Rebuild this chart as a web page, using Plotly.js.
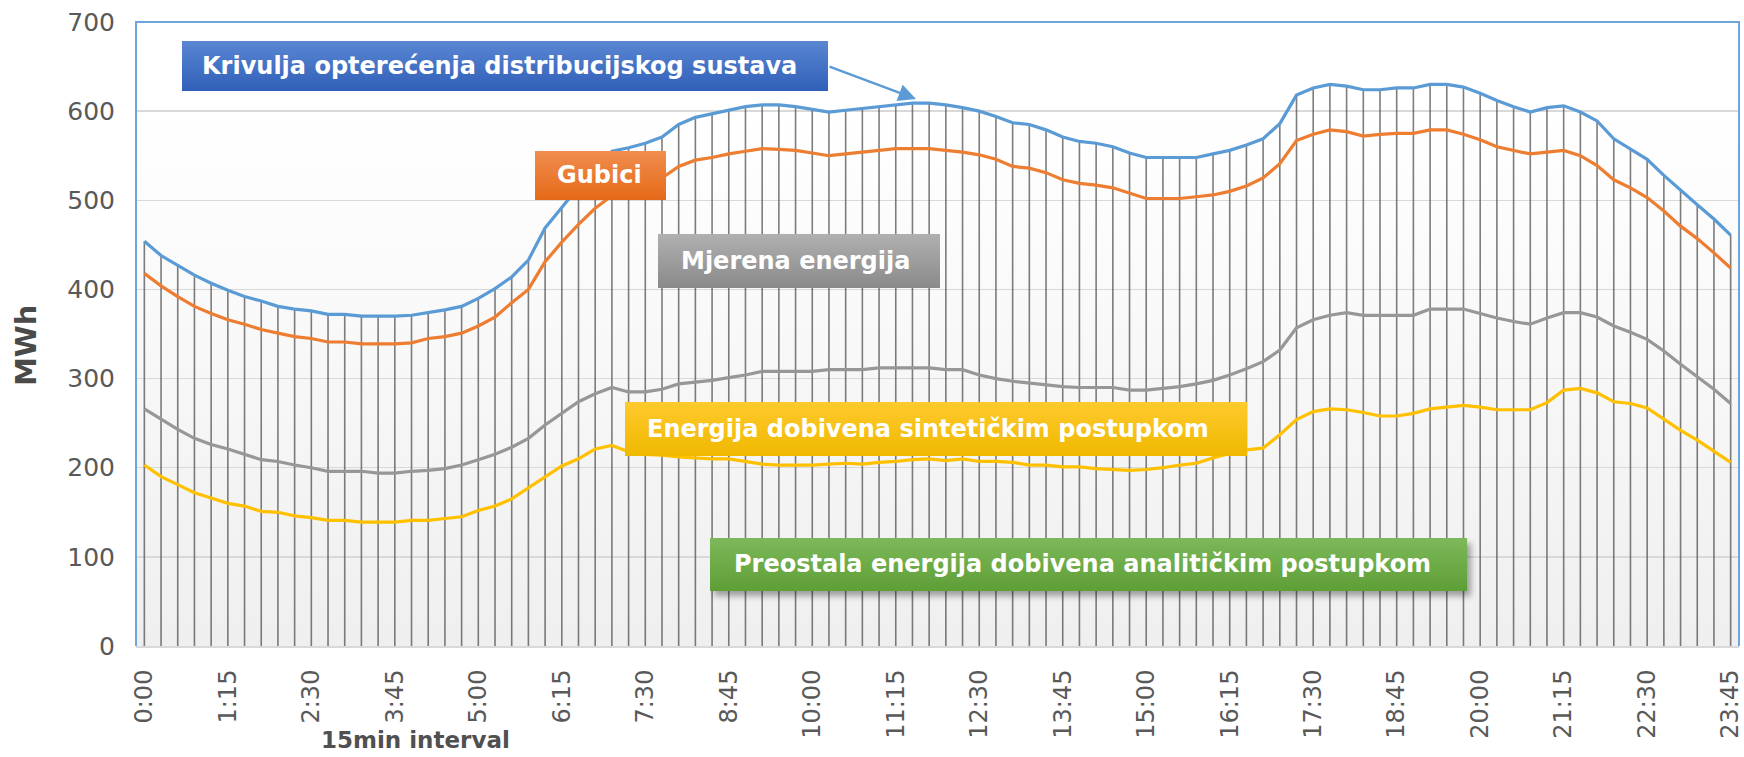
<!DOCTYPE html>
<html><head><meta charset="utf-8">
<script src="https://cdn.plot.ly/plotly-3.0.1.min.js"></script>
<style>html,body{margin:0;padding:0;background:#fff}#chart{width:1744px;height:757px}</style>
</head><body><div id="chart"></div>
<script>
const intervals = ['0:00','0:15','0:30','0:45','1:00','1:15','1:30','1:45','2:00','2:15','2:30','2:45',
'3:00','3:15','3:30','3:45','4:00','4:15','4:30','4:45','5:00','5:15','5:30','5:45',
'6:00','6:15','6:30','6:45','7:00','7:15','7:30','7:45','8:00','8:15','8:30','8:45',
'9:00','9:15','9:30','9:45','10:00','10:15','10:30','10:45','11:00','11:15','11:30','11:45',
'12:00','12:15','12:30','12:45','13:00','13:15','13:30','13:45','14:00','14:15','14:30','14:45',
'15:00','15:15','15:30','15:45','16:00','16:15','16:30','16:45','17:00','17:15','17:30','17:45',
'18:00','18:15','18:30','18:45','19:00','19:15','19:30','19:45','20:00','20:15','20:30','20:45',
'21:00','21:15','21:30','21:45','22:00','22:15','22:30','22:45','23:00','23:15','23:30','23:45'];

const tickLabels = ['0:00','1:15','2:30','3:45','5:00','6:15','7:30','8:45','10:00','11:15',
'12:30','13:45','15:00','16:15','17:30','18:45','20:00','21:15','22:30','23:45'];

const loadCurve = [454,438,427,416,407,399,392,387,381,378,376,372,372,370,370,370,371,374,377,381,
390,401,414,433,469,492,515,536,555,559,564,571,585,593,597,601,605,607,607,605,
602,599,601,603,605,607,609,609,607,604,600,594,587,585,579,571,566,564,560,553,
548,548,548,548,552,556,562,569,586,618,626,630,628,624,624,626,626,630,630,627,
620,612,605,599,604,606,599,589,569,558,546,528,511,495,479,461];

const losses = [418,404,392,381,373,366,361,355,351,347,345,341,341,339,339,339,340,345,347,351,
359,369,385,400,431,453,473,491,505,515,521,525,538,545,548,552,555,558,557,556,
553,550,552,554,556,558,558,558,556,554,551,546,538,536,531,523,519,517,514,508,
502,502,502,504,506,510,516,525,541,567,574,579,577,572,574,575,575,579,579,574,
568,560,556,552,554,556,550,539,523,514,503,488,471,457,441,424];

const measured = [266,254,243,233,226,221,215,209,207,203,200,196,196,196,194,194,196,197,199,203,
209,215,223,233,248,261,274,283,290,285,285,288,294,296,298,301,304,308,308,308,
308,310,310,310,312,312,312,312,310,310,304,300,297,295,293,291,290,290,290,287,
287,289,291,294,298,304,311,319,332,357,366,371,374,371,371,371,371,378,378,378,
373,368,364,361,368,374,374,369,359,352,344,331,316,302,288,272];

const synthetic = [203,190,181,172,166,160,157,151,150,146,144,141,141,139,139,139,141,141,143,145,
152,157,165,177,190,202,210,221,225,218,215,214,212,211,210,210,207,204,203,203,
203,204,205,204,206,207,209,210,208,210,207,207,206,203,203,201,201,199,198,197,
198,200,203,205,211,216,220,222,237,254,263,266,265,262,258,258,261,266,268,270,
268,265,265,265,273,287,289,284,274,272,267,254,242,231,219,206];

const labelTexts = {
  load: 'Krivulja opterećenja distribucijskog sustava',
  loss: 'Gubici',
  meas: 'Mjerena energija',
  synth: 'Energija dobivena sintetičkim postupkom',
  rest: 'Preostala energija dobivena analitičkim postupkom'
};

// layout geometry (pixels)
const W = 1744, H = 757, L = 136, R = 5, T = 22, B = 111;
const PW = W - L - R, PH = H - T - B;
const px = x => (x - L) / PW;
const py = y => (H - B - y) / PH;

// drop lines built from the load curve
const dropX = [], dropY = [];
intervals.forEach((c, i) => { dropX.push(c, c, null); dropY.push(0, loadCurve[i], null); });

const traces = [
  {x: dropX, y: dropY, mode: 'lines', line: {color: 'rgba(75,75,75,0.72)', width: 1.6}, hoverinfo: 'skip', showlegend: false},
  {x: intervals, y: synthetic, mode: 'lines', line: {color: '#FFC000', width: 3.2}, showlegend: false},
  {x: intervals, y: measured, mode: 'lines', line: {color: '#979797', width: 3.2}, showlegend: false},
  {x: intervals, y: losses, mode: 'lines', line: {color: '#ED7D31', width: 3.2}, showlegend: false},
  {x: intervals, y: loadCurve, mode: 'lines', line: {color: '#5B9BD5', width: 3.2}, showlegend: false}
];

function svgURI(s) { return 'data:image/svg+xml;charset=utf-8,' + encodeURIComponent(s); }

function boxImage(x0, y0, x1, y1, cTop, cBot, shadow) {
  const w = x1 - x0, h = y1 - y0;
  const ext = shadow ? 12 : 0;
  const tw = w + ext, th = h + ext;
  let s = `<svg xmlns="http://www.w3.org/2000/svg" width="${tw}" height="${th}" viewBox="0 0 ${tw} ${th}" preserveAspectRatio="none">` +
    `<defs><linearGradient id="g" x1="0" y1="0" x2="0" y2="1"><stop offset="0" stop-color="${cTop}"/><stop offset="1" stop-color="${cBot}"/></linearGradient>` +
    `<filter id="f" x="-20%" y="-50%" width="140%" height="200%"><feGaussianBlur stdDeviation="3"/></filter></defs>`;
  if (shadow) s += `<rect x="4" y="5" width="${w}" height="${h}" fill="rgba(0,0,0,0.35)" filter="url(#f)"/>`;
  s += `<rect x="0" y="0" width="${w}" height="${h}" fill="url(#g)"/></svg>`;
  return {source: svgURI(s), xref: 'paper', yref: 'paper', x: px(x0), y: py(y0),
    sizex: tw / PW, sizey: th / PH, sizing: 'stretch', xanchor: 'left', yanchor: 'top', layer: 'above'};
}

const bgSVG = `<svg xmlns="http://www.w3.org/2000/svg" width="100" height="100" viewBox="0 0 100 100" preserveAspectRatio="none">` +
  `<defs><linearGradient id="b" x1="0" y1="0" x2="0" y2="1"><stop offset="0" stop-color="#ffffff"/><stop offset="0.15" stop-color="#ffffff"/><stop offset="1" stop-color="#efefef"/></linearGradient></defs>` +
  `<rect x="0" y="0" width="100" height="100" fill="url(#b)"/></svg>`;

const images = [
  {source: svgURI(bgSVG), xref: 'paper', yref: 'paper', x: 0, y: 1, sizex: 1, sizey: 1, sizing: 'stretch', xanchor: 'left', yanchor: 'top', layer: 'below'},
  boxImage(182, 41, 828, 91, '#5a86d2', '#2f5fb8', false),
  boxImage(535, 151, 666, 200, '#f08d4f', '#e56a18', false),
  boxImage(658, 234, 940, 288, '#b0b0b0', '#8a8a8a', false),
  boxImage(625, 402, 1247, 456, '#ffca2e', '#efb800', false),
  boxImage(710, 538, 1467, 591, '#7db85a', '#5e9e36', true)
];

const boxFont = {family: 'DejaVu Sans', size: 24, color: '#ffffff', weight: 'bold'};
function boxText(text, xLeft, yMid) {
  return {text: text, xref: 'paper', yref: 'paper', x: px(xLeft), y: py(yMid), xanchor: 'left', yanchor: 'middle',
    showarrow: false, font: boxFont};
}

const annotations = [
  boxText(labelTexts.load, 200, 66),
  boxText(labelTexts.loss, 555, 175),
  boxText(labelTexts.meas, 679, 261),
  boxText(labelTexts.synth, 645, 429),
  boxText(labelTexts.rest, 732, 564),
  {text: '', xref: 'paper', yref: 'paper', x: px(916), y: py(99), showarrow: true, axref: 'pixel', ayref: 'pixel',
    ax: 828 - 916, ay: 66 - 99, arrowhead: 2, arrowsize: 1.4, arrowwidth: 2.5, arrowcolor: '#5B9BD5', standoff: 0},
  {text: 'MWh', xref: 'paper', yref: 'paper', x: px(26), y: py(345), textangle: -90, showarrow: false,
    xanchor: 'center', yanchor: 'middle', font: {family: 'DejaVu Sans', size: 29, color: '#4a4a4a', weight: 'bold'}},
  {text: '15min interval', xref: 'paper', yref: 'paper', x: px(415), y: py(740), showarrow: false,
    xanchor: 'center', yanchor: 'middle', font: {family: 'DejaVu Sans', size: 23, color: '#505050', weight: 'bold'}}
];

const layout = {
  width: W, height: H,
  margin: {l: L, r: R, t: T, b: B},
  paper_bgcolor: '#ffffff', plot_bgcolor: 'rgba(0,0,0,0)',
  showlegend: false,
  xaxis: {type: 'category', range: [-0.5, 95.5], tickmode: 'array', tickvals: tickLabels, ticktext: tickLabels,
    tickangle: -90, tickfont: {family: 'DejaVu Sans', size: 24, color: '#595959'},
    showgrid: false, zeroline: false, showline: true, linecolor: '#d9d9d9', linewidth: 2, ticks: '', ticklabelstandoff: 12, fixedrange: true},
  yaxis: {range: [0, 700], tickmode: 'linear', tick0: 0, dtick: 100, showgrid: true, gridcolor: '#d9d9d9', gridwidth: 1.5,
    zeroline: false, showline: false, ticks: '', tickfont: {family: 'DejaVu Sans', size: 25, color: '#595959'},
    ticklabelstandoff: 20, fixedrange: true},
  images: images,
  annotations: annotations,
  shapes: [
    {type: 'path', xref: 'paper', yref: 'paper', path: 'M 0,0 L 0,1 L 1,1 L 1,0', line: {color: '#6fa6da', width: 2}, layer: 'above'}
  ]
};

Plotly.newPlot('chart', traces, layout, {displayModeBar: false, staticPlot: true});
</script></body></html>
